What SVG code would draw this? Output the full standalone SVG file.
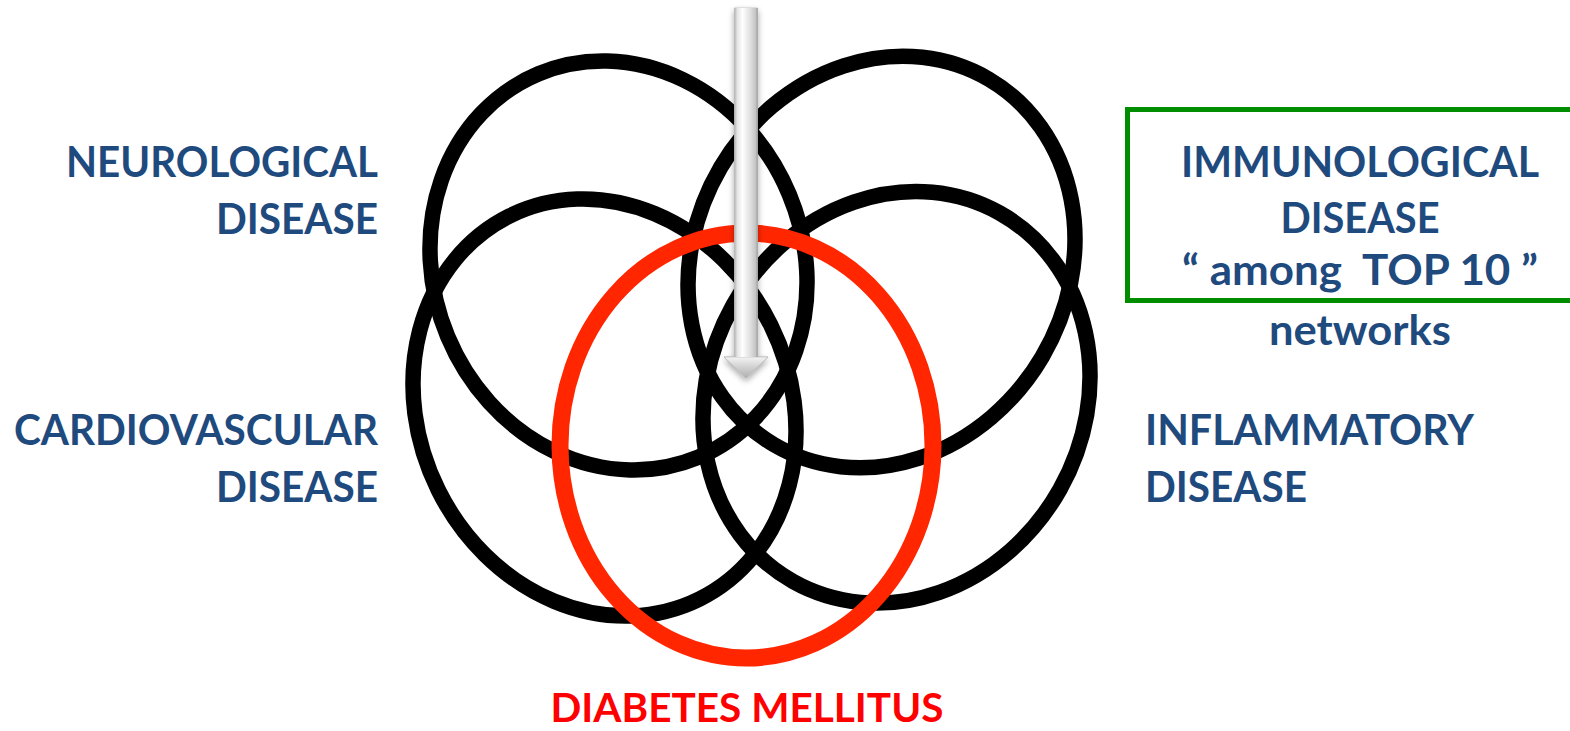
<svg xmlns="http://www.w3.org/2000/svg" width="1570" height="731" viewBox="0 0 1570 731">
  <defs>
    <style>
      .blk { fill: none; stroke: #000000; stroke-width: 15.5; }
      .red { fill: none; stroke: #FF2600; stroke-width: 17; }
      .lbl { font-family: Lato, "Open Sans", "Liberation Sans", sans-serif; font-weight: 700; font-size: 42px; fill: #1F4A7E; }
      .lblr { font-family: Lato, "Open Sans", "Liberation Sans", sans-serif; font-weight: 700; font-size: 41px; fill: #FF0000; }
    </style>
    <linearGradient id="shaft" x1="0" y1="0" x2="1" y2="0">
      <stop offset="0" stop-color="#b4b4b4"/>
      <stop offset="0.12" stop-color="#e4e4e4"/>
      <stop offset="0.35" stop-color="#ffffff"/>
      <stop offset="0.7" stop-color="#dedede"/>
      <stop offset="0.92" stop-color="#c4c4c4"/>
      <stop offset="1" stop-color="#9a9a9a"/>
    </linearGradient>
    <linearGradient id="head" x1="0" y1="0" x2="0" y2="1">
      <stop offset="0" stop-color="#f4f4f4"/>
      <stop offset="0.5" stop-color="#d0d0d0"/>
      <stop offset="1" stop-color="#b0b0b0"/>
    </linearGradient>
    <filter id="shadow" x="-50%" y="-5%" width="200%" height="115%">
      <feGaussianBlur in="SourceAlpha" stdDeviation="3"/>
      <feOffset dx="0" dy="3" result="b"/>
      <feComponentTransfer><feFuncA type="linear" slope="0.35"/></feComponentTransfer>
      <feMerge><feMergeNode/><feMergeNode in="SourceGraphic"/></feMerge>
    </filter>
  </defs>
  <rect x="0" y="0" width="1570" height="731" fill="#ffffff"/>

  <g id="neurological-ellipse">
    <ellipse class="blk" cx="618.5" cy="265.5" rx="185" ry="207.7" transform="rotate(-22.6 618.5 265.5)"/>
  </g>
  <g id="immunological-ellipse">
    <ellipse class="blk" cx="881.5" cy="262" rx="186.6" ry="212" transform="rotate(30.5 881.5 262)"/>
  </g>
  <g id="cardiovascular-ellipse">
    <ellipse class="blk" cx="604.5" cy="407.5" rx="185.6" ry="213.8" transform="rotate(-26.4 604.5 407.5)"/>
  </g>
  <g id="inflammatory-ellipse">
    <ellipse class="blk" cx="896.5" cy="397.3" rx="187.6" ry="211.2" transform="rotate(29.3 896.5 397.3)"/>
  </g>
  <g id="diabetes-ellipse">
    <ellipse class="red" cx="746.5" cy="445.5" rx="186.5" ry="212.5"/>
  </g>

  <g id="connectors">
    <g filter="url(#shadow)">
      <path d="M734.5,8 H757.5 V357 H768 L746,378 L724,357 H734.5 Z" fill="url(#shaft)" stroke="#b8b8b8" stroke-width="0.8"/>
      <path d="M724,357 H768 L746,378 Z" fill="url(#head)" stroke="#b0b0b0" stroke-width="0.6"/>
      <rect x="734.5" y="8" width="23" height="349" fill="url(#shaft)"/>
    </g>
  </g>

  <g id="neurological-label">
    <text class="lbl" x="378" y="177" text-anchor="end" textLength="312" lengthAdjust="spacingAndGlyphs">NEUROLOGICAL</text>
    <text class="lbl" x="378" y="234" text-anchor="end" textLength="162" lengthAdjust="spacingAndGlyphs">DISEASE</text>
  </g>
  <g id="cardiovascular-label">
    <text class="lbl" x="378" y="445" text-anchor="end" textLength="364" lengthAdjust="spacingAndGlyphs">CARDIOVASCULAR</text>
    <text class="lbl" x="378" y="502" text-anchor="end" textLength="162" lengthAdjust="spacingAndGlyphs">DISEASE</text>
  </g>
  <g id="immunological-label">
    <rect x="1127.5" y="109.5" width="460" height="191" fill="none" stroke="#008E00" stroke-width="5"/>
    <text class="lbl" x="1360" y="177" text-anchor="middle" textLength="358" lengthAdjust="spacingAndGlyphs">IMMUNOLOGICAL</text>
    <text class="lbl" x="1360" y="233" text-anchor="middle" textLength="159" lengthAdjust="spacingAndGlyphs">DISEASE</text>
    <text class="lbl" x="1360" y="285" text-anchor="middle" textLength="356" lengthAdjust="spacingAndGlyphs">“ among &#160;TOP 10 ”</text>
    <text class="lbl" x="1360" y="345" text-anchor="middle" textLength="182" lengthAdjust="spacingAndGlyphs">networks</text>
  </g>
  <g id="inflammatory-label">
    <text class="lbl" x="1145" y="445" textLength="329" lengthAdjust="spacingAndGlyphs">INFLAMMATORY</text>
    <text class="lbl" x="1145" y="502" textLength="162" lengthAdjust="spacingAndGlyphs">DISEASE</text>
  </g>
  <g id="diabetes-label">
    <text class="lblr" x="747" y="722" text-anchor="middle" textLength="393" lengthAdjust="spacingAndGlyphs">DIABETES MELLITUS</text>
  </g>
</svg>
